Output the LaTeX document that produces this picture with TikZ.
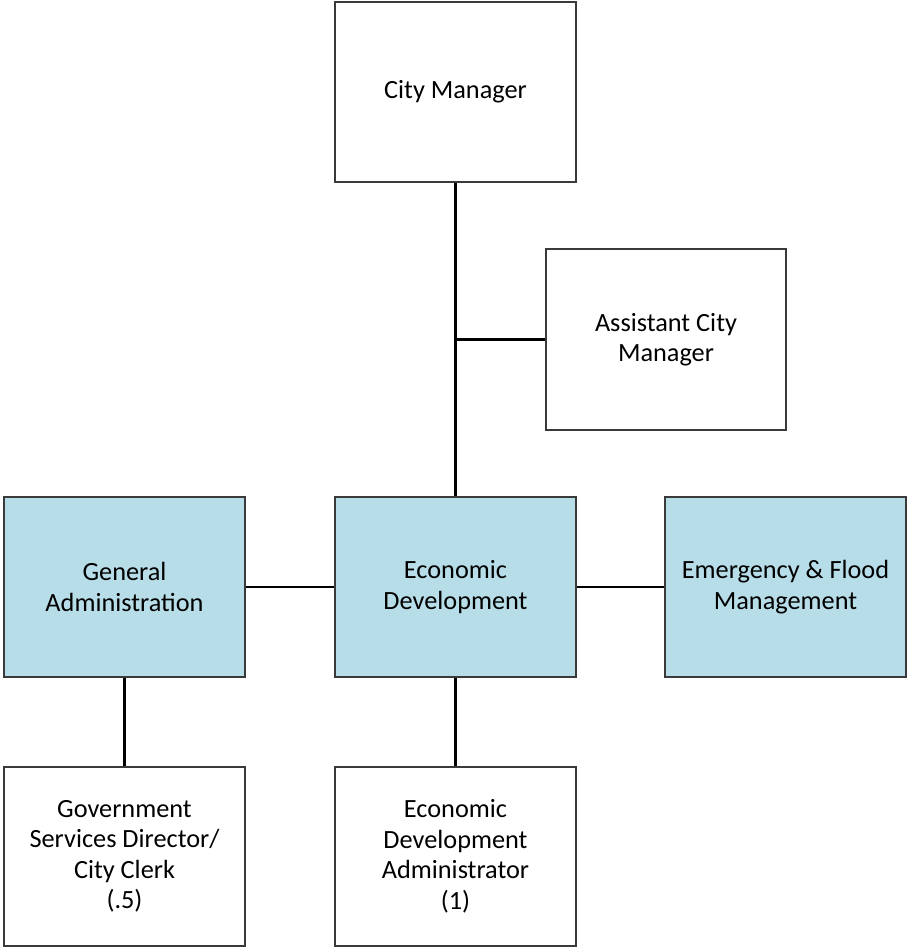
\documentclass[tikz,border=0pt]{standalone}
\usepackage{fontspec}
\setmainfont{Carlito}
\definecolor{unitblue}{HTML}{B7DDE8}
\definecolor{boxline}{HTML}{3A3A3A}
\begin{document}
\begin{tikzpicture}[x=1pt,y=-1pt,
  orgbox/.style={draw=boxline, line width=1.1pt, fill=white, align=center,
    minimum width=241pt, minimum height=180pt, inner sep=2pt,
    font=\fontsize{26.3}{30.5}\selectfont},
  unitbox/.style={orgbox, fill=unitblue},
  link/.style={line width=2.2pt, black}]
\useasboundingbox (0,0) rectangle (907,949);
\fill[white] (0,0) rectangle (907,949);

% reporting line and staff boxes
\node[orgbox] (cm)  at (455.5,92)    {City Manager};
\node[orgbox, minimum width=240pt, minimum height=181pt] (acm) at (666,339.5) {Assistant City\\Manager};

% departments
\node[unitbox] (ga)  at (124.5,587) {General\\Administration};
\node[unitbox] (ed)  at (455.5,587) {Economic\\Development};
\node[unitbox] (efm) at (785.5,587) {Emergency \& Flood\\Management};

% positions
\node[orgbox, minimum height=179pt] (gsd) at (124.5,856.5) {Government\\Services Director/\\City Clerk\\(.5)};
\node[orgbox, minimum height=179pt] (eda) at (455.5,856.5) {Economic\\Development\\Administrator\\(1)};

% connectors
\coordinate (tap) at (cm.south |- acm.west);
\draw[link] (cm.south) -- (ed.north);
\draw[link] (tap) -- (acm.west);
\draw[link] (ga.east) -- (ed.west);
\draw[link] (ed.east) -- (efm.west);
\draw[link] (ga.south) -- (gsd.north);
\draw[link] (ed.south) -- (eda.north);
\end{tikzpicture}
\end{document}
